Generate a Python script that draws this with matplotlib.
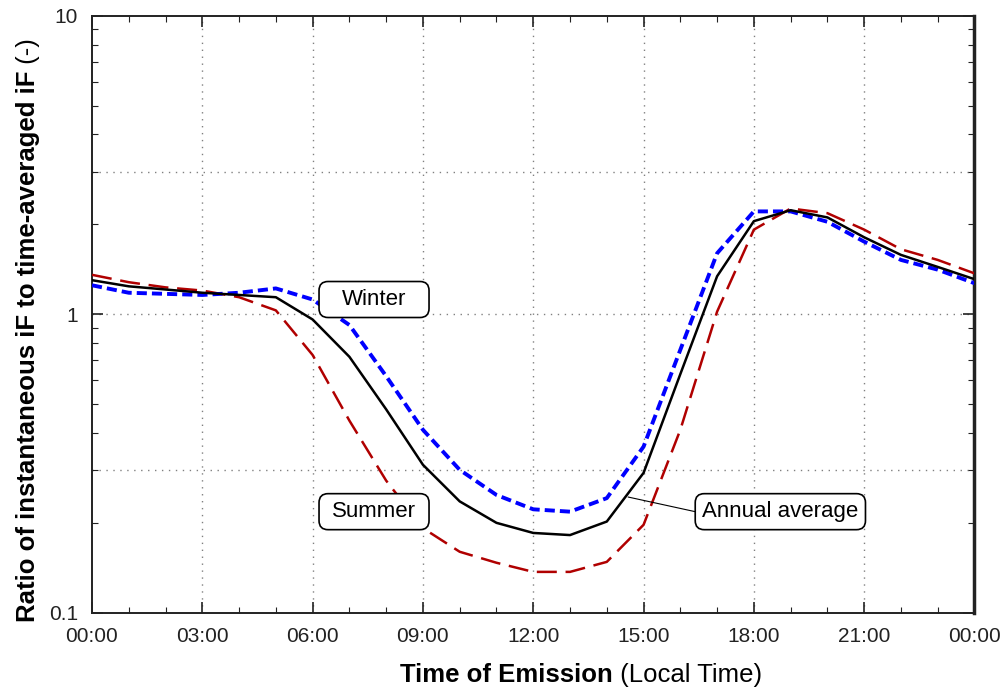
import matplotlib
matplotlib.use("Agg")
import matplotlib.pyplot as plt
import matplotlib.transforms as mtransforms
from matplotlib.patches import FancyBboxPatch
from matplotlib.ticker import LogLocator, NullFormatter, MultipleLocator

plt.rcParams['font.family'] = ['Liberation Sans', 'DejaVu Sans']

# hourly ratio values (hour 0 .. 24)
hours = list(range(25))
annual = [1.30, 1.24, 1.21, 1.18, 1.16, 1.14, 0.96, 0.72, 0.48, 0.313, 0.236, 0.200, 0.185,
          0.182, 0.202, 0.294, 0.63, 1.34, 2.05, 2.23, 2.11, 1.81, 1.58, 1.44, 1.31]
winter = [1.25, 1.18, 1.17, 1.16, 1.18, 1.22, 1.12, 0.92, 0.62, 0.41, 0.301, 0.248, 0.222,
          0.218, 0.242, 0.36, 0.76, 1.60, 2.21, 2.21, 2.04, 1.75, 1.52, 1.41, 1.27]
summer = [1.355, 1.28, 1.23, 1.20, 1.14, 1.03, 0.73, 0.44, 0.277, 0.192, 0.160, 0.147, 0.137,
          0.137, 0.148, 0.197, 0.41, 1.02, 1.92, 2.26, 2.18, 1.92, 1.65, 1.52, 1.37]

tick_hours = [0, 3, 6, 9, 12, 15, 18, 21, 24]
tick_labels = ["00:00", "03:00", "06:00", "09:00", "12:00", "15:00", "18:00", "21:00", "00:00"]
ygrid = [0.3, 1, 3]

fig = plt.figure(figsize=(10, 6.92), dpi=100)
ax = fig.add_axes([0.092, 0.1146, 0.8825, 0.8627])

ax.set_yscale('log')
ax.set_xlim(0, 24)
ax.set_ylim(0.1, 10)

# dotted grid
for yv in ygrid:
    ax.axhline(yv, color='#808080', lw=1, ls=(0, (1, 4)), zorder=1)
for xv in tick_hours[1:-1]:
    ax.axvline(xv, color='#808080', lw=1, ls=(0, (1, 4)), zorder=1)

ax.plot(hours, summer, color='#B00000', lw=1.8, dashes=(8, 3.5), zorder=3)
ax.plot(hours, winter, color='#0000FF', lw=2.8, dashes=(2.6, 1.3), zorder=3)
ax.plot(hours, annual, color='black', lw=1.8, zorder=4)

ax.set_xticks(tick_hours)
ax.set_xticklabels(tick_labels)
ax.xaxis.set_minor_locator(MultipleLocator(1))
ax.set_yticks([0.1, 1, 10])
ax.set_yticklabels(['0.1', '1', '10'])
ax.yaxis.set_minor_locator(LogLocator(base=10, subs=range(2, 10)))
ax.yaxis.set_minor_formatter(NullFormatter())
ax.tick_params(which='both', direction='in', top=True, right=True, labelsize=15, pad=10,
               colors='#222222')
ax.tick_params(which='major', length=8, width=1.2)
ax.tick_params(which='minor', length=4, width=0.8)
for s in ax.spines.values():
    s.set_linewidth(1.4)
    s.set_color('#222222')
ax.spines['right'].set_linewidth(2.5)

renderer = fig.canvas.get_renderer()
ident = mtransforms.IdentityTransform()


def label_box(x, y, text, w=None, h=36):
    t = ax.text(x, y, text, ha='center', va='center', fontsize=16, zorder=7)
    cx, cy = ax.transData.transform((x, y))
    if w is None:
        w = t.get_window_extent(renderer).width + 14
    box = FancyBboxPatch((cx - w / 2, cy - h / 2), w, h,
                         boxstyle='round,pad=0,rounding_size=9', transform=ident,
                         fc='white', ec='black', lw=1.2, zorder=6)
    ax.add_artist(box)
    return ax.transData.inverted().transform((cx - w / 2, cy))


label_box(7.67, 1.12, "Winter", w=110)
label_box(7.67, 0.218, "Summer", w=110)
lx, ly = label_box(18.72, 0.218, "Annual average")
ax.plot([14.585, lx], [0.244, ly], color='black', lw=0.8, zorder=5)


def two_part_label(bold, normal, cx, cy, rotation):
    a = fig.text(0, 0, bold, fontsize=18.5, fontweight='bold', rotation=rotation,
                 rotation_mode='anchor', ha='left', va='center', transform=ident)
    b = fig.text(0, 0, normal, fontsize=18.5, rotation=rotation,
                 rotation_mode='anchor', ha='left', va='center', transform=ident)
    ea, eb = a.get_window_extent(renderer), b.get_window_extent(renderer)
    if rotation:
        la, lb = ea.height, eb.height
        start = cy - (la + lb) / 2
        a.set_position((cx, start))
        b.set_position((cx, start + la))
    else:
        la, lb = ea.width, eb.width
        start = cx - (la + lb) / 2
        a.set_position((start, cy))
        b.set_position((start + la, cy))


two_part_label("Time of Emission", " (Local Time)", 581, 17, 0)
two_part_label("Ratio of instantaneous iF to time-averaged iF", " (-)", 28, 362, 90)

fig.savefig('out.png', dpi=100)
